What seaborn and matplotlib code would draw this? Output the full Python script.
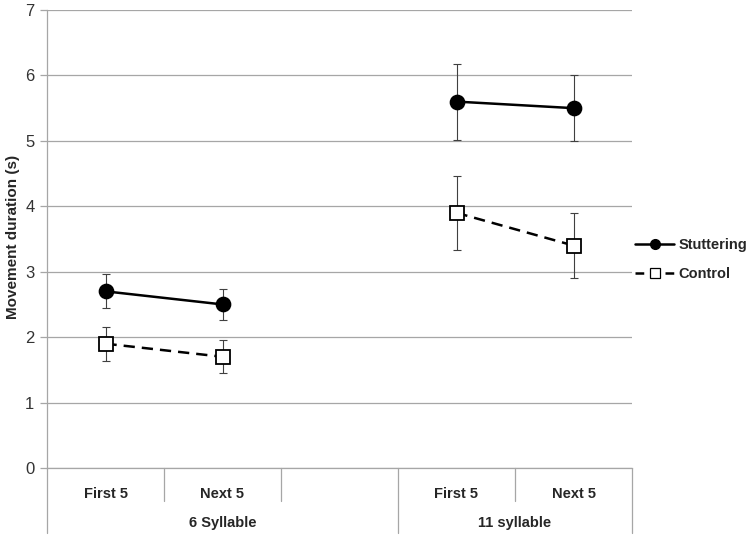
import matplotlib
matplotlib.use("Agg")
import matplotlib.pyplot as plt
from matplotlib.lines import Line2D
import seaborn as sns
import pandas as pd

# ---- data ----
groups = ["6 Syllable", "11 syllable"]
conditions = ["First 5", "Next 5"]
slot_labels = ["First 5", "Next 5", "", "First 5", "Next 5"]
group_start = [0, 3]
series_names = ["Stuttering", "Control"]
stuttering = [2.7, 2.5, 5.6, 5.5]
stuttering_err = [0.26, 0.24, 0.58, 0.50]
control = [1.9, 1.7, 3.9, 3.4]
control_err = [0.26, 0.25, 0.57, 0.50]

rows = []
for name, vals, errs in [("Stuttering", stuttering, stuttering_err),
                         ("Control", control, control_err)]:
    k = 0
    for gi, g in enumerate(groups):
        for ci, c in enumerate(conditions):
            rows.append(dict(series=name, group=g, cond=c,
                             pos=group_start[gi] + ci, value=vals[k], err=errs[k]))
            k += 1
df = pd.DataFrame(rows)

sns.set_style("white")
plt.rcParams["font.family"] = ["Liberation Sans", "DejaVu Sans"]

fig = plt.figure(figsize=(7.5, 5.36), dpi=100)
ax = fig.add_axes([47 / 750, 1 - 468 / 536, (632 - 47) / 750, (468 - 10) / 536])

grid_c = "#a6a6a6"

# error bars
for name in series_names:
    sub = df[df.series == name]
    ax.errorbar(sub.pos, sub.value, yerr=sub.err, fmt="none", ecolor="#404040",
                elinewidth=0.8, capsize=3, capthick=0.8, zorder=1.5)

for g in groups:
    sub = df[df.group == g]
    sns.lineplot(data=sub, x="pos", y="value", hue="series", style="series",
                 hue_order=series_names, style_order=series_names,
                 palette={"Stuttering": "black", "Control": "black"},
                 markers={"Stuttering": "o", "Control": "s"},
                 dashes={"Stuttering": "", "Control": (4.5, 2.8)},
                 markersize=10, linewidth=1.8, markeredgecolor="black",
                 markeredgewidth=1.3, legend=False, ax=ax, zorder=3)

for ln in ax.lines:
    if ln.get_marker() == "s":
        ln.set_markerfacecolor("white")
        ln.set_markersize(9.5)

ax.set_xlim(-0.5, 4.5)
ax.set_ylim(0, 7)
ax.set_yticks(range(8))
ax.yaxis.grid(True, color=grid_c, linewidth=0.9)
ax.set_axisbelow(True)
for s in ["top", "right"]:
    ax.spines[s].set_visible(False)
for s in ["left", "bottom"]:
    ax.spines[s].set_color(grid_c)
    ax.spines[s].set_linewidth(0.9)

ax.tick_params(axis="y", which="major", left=True, length=5, width=0.9,
               color=grid_c, labelsize=12, labelcolor="#333333", pad=4)
ax.set_xticks(range(len(slot_labels)))
ax.set_xticklabels(slot_labels, fontsize=10.5, fontweight="bold")
ax.tick_params(axis="x", length=0, pad=14)
ax.set_xlabel("")
ax.set_ylabel("Movement duration (s)", fontsize=11, fontweight="bold")
ax.yaxis.set_label_coords(-(47 - 20) / 585, 0.505)

# category divider lines
trans = ax.get_xaxis_transform()
short_y = -(501 - 468) / 458
long_y = -(533 - 468) / 458
boundaries = [-0.5, 0.5, 1.5, 2.5, 3.5, 4.5]
long_b = {-0.5, 2.5, 4.5}
for b in boundaries:
    y1 = long_y if b in long_b else short_y
    ax.plot([b, b], [0, y1], transform=trans, color=grid_c, linewidth=0.9,
            clip_on=False)

# group labels
for gi, g in enumerate(groups):
    left = -0.5 if gi == 0 else 2.5
    right = 2.5 if gi == 0 else 4.5
    ax.text((left + right) / 2, -(523 - 468) / 458, g, transform=trans,
            ha="center", va="center", fontsize=10.5, fontweight="bold")

handles = [
    Line2D([], [], color="black", linewidth=1.8, marker="o", markersize=7,
           markerfacecolor="black", markeredgecolor="black"),
    Line2D([], [], color="black", linewidth=1.8, linestyle=(0, (3.5, 2.5)),
           marker="s", markersize=7.5, markerfacecolor="white",
           markeredgecolor="black", markeredgewidth=0.9),
]
leg = ax.legend(handles, series_names, loc="center left",
                bbox_to_anchor=(1.005, (468 - 259.5) / 458), frameon=False,
                borderaxespad=0, borderpad=0, handlelength=2.7,
                handletextpad=0.3, labelspacing=1.0,
                prop={"weight": "bold", "size": 10.5})

fig.savefig("out.png", dpi=100)
